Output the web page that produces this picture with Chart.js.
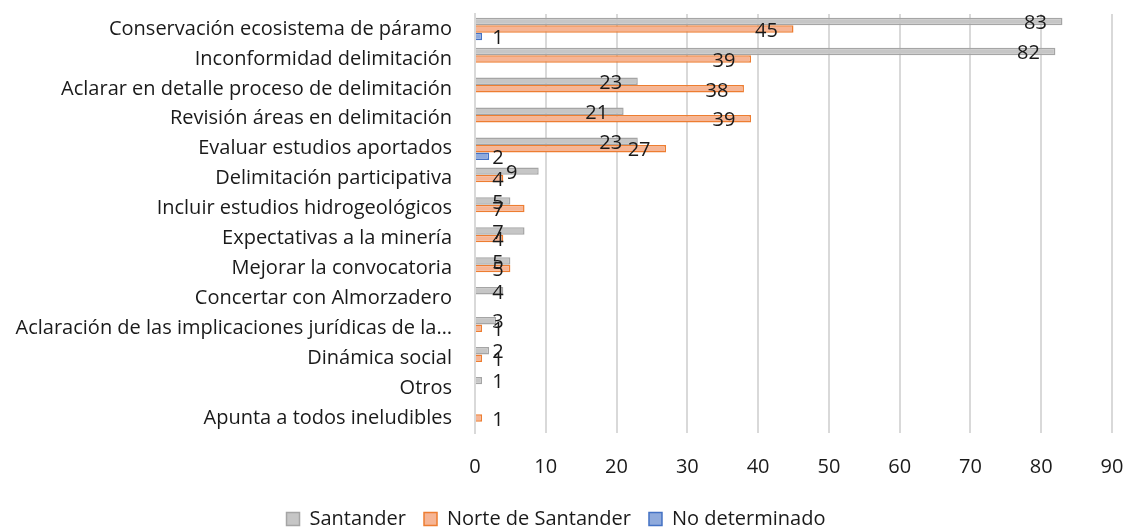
<!DOCTYPE html>
<html>
<head>
<meta charset="utf-8">
<script src="https://cdn.jsdelivr.net/npm/chart.js@4.4.0/dist/chart.umd.min.js"></script>
<style>
  html, body { margin: 0; padding: 0; background: #fff; }
  #wrap { width: 1126px; height: 527px; }
</style>
</head>
<body>
<div id="wrap"><canvas id="chart"></canvas></div>
<script>
// categorías de arriba hacia abajo
const categories = [
  'Conservación ecosistema de páramo',
  'Inconformidad delimitación',
  'Aclarar en detalle proceso de delimitación',
  'Revisión áreas en delimitación',
  'Evaluar estudios aportados',
  'Delimitación participativa',
  'Incluir estudios hidrogeológicos',
  'Expectativas a la minería',
  'Mejorar la convocatoria',
  'Concertar con Almorzadero',
  'Aclaración de las implicaciones jurídicas de la…',
  'Dinámica social',
  'Otros',
  'Apunta a todos ineludibles'
];

const santander      = [83, 82, 23, 21, 23, 9, 5, 7, 5, 4, 3, 2, 1, null];
const norteSantander = [45, 39, 38, 39, 27, 4, 7, 4, 5, null, 1, 1, null, 1];
const noDeterminado  = [1, null, null, null, 2, null, null, null, null, null, null, null, null, null];

const xMax = 90;
const xStep = 10;

const FONT = 'Open Sans';
const SIZE = 20;
const TEXT = '#1a1a1a';

// etiquetas de valor (sin plugin externo)
const valueLabels = {
  id: 'valueLabels',
  afterDatasetsDraw(chart) {
    const ctx = chart.ctx;
    ctx.save();
    ctx.font = `${SIZE}px "${FONT}"`;
    ctx.fillStyle = TEXT;
    ctx.textAlign = 'center';
    ctx.textBaseline = 'middle';
    chart.data.datasets.forEach((ds, i) => {
      const meta = chart.getDatasetMeta(i);
      meta.data.forEach((bar, j) => {
        const v = ds.data[j];
        if (v === null || v === undefined) return;
        const x = Math.max(bar.x - 27, bar.base + 22);
        ctx.fillText(String(v), x, bar.y + 2);
      });
    });
    ctx.restore();
  }
};

new Chart(document.getElementById('chart'), {
  type: 'bar',
  data: {
    labels: categories,
    datasets: [
      {
        label: 'Santander',
        data: santander,
        backgroundColor: '#c6c6c6',
        borderColor: '#a5a5a5',
        borderWidth: 1.5
      },
      {
        label: 'Norte de Santander',
        data: norteSantander,
        backgroundColor: '#f6b595',
        borderColor: '#ed7d31',
        borderWidth: 1.5
      },
      {
        label: 'No determinado',
        data: noDeterminado,
        backgroundColor: '#8faadc',
        borderColor: '#4472c4',
        borderWidth: 1.5
      }
    ]
  },
  options: {
    indexAxis: 'y',
    responsive: true,
    maintainAspectRatio: false,
    animation: false,
    barPercentage: 1,
    categoryPercentage: 0.75,
    layout: { padding: { top: 14, right: 14, left: 0, bottom: 0 } },
    scales: {
      x: {
        min: 0,
        max: xMax,
        ticks: {
          stepSize: xStep,
          color: TEXT,
          padding: 22,
          font: { family: FONT, size: SIZE }
        },
        grid: { color: '#d9d9d9', lineWidth: 2, drawTicks: false },
        border: { display: false },
        afterFit: s => {
          s.height = 58;
          s.paddingRight = 0;
          s.paddingLeft = 0;
        }
      },
      y: {
        ticks: {
          color: TEXT,
          padding: 23,
          autoSkip: false,
          font: { family: FONT, size: SIZE }
        },
        grid: { display: false, drawTicks: false },
        border: { display: true, color: '#d9d9d9', width: 2 },
        afterFit: s => {
          s.width = 475;
          s.paddingTop = 0;
          s.paddingBottom = 0;
        }
      }
    },
    plugins: {
      legend: {
        position: 'bottom',
        maxHeight: 36,
        labels: {
          color: TEXT,
          boxWidth: 13,
          boxHeight: 13,
          padding: 18,
          font: { family: FONT, size: SIZE }
        }
      },
      tooltip: { enabled: false }
    }
  },
  plugins: [valueLabels]
});
</script>
</body>
</html>
